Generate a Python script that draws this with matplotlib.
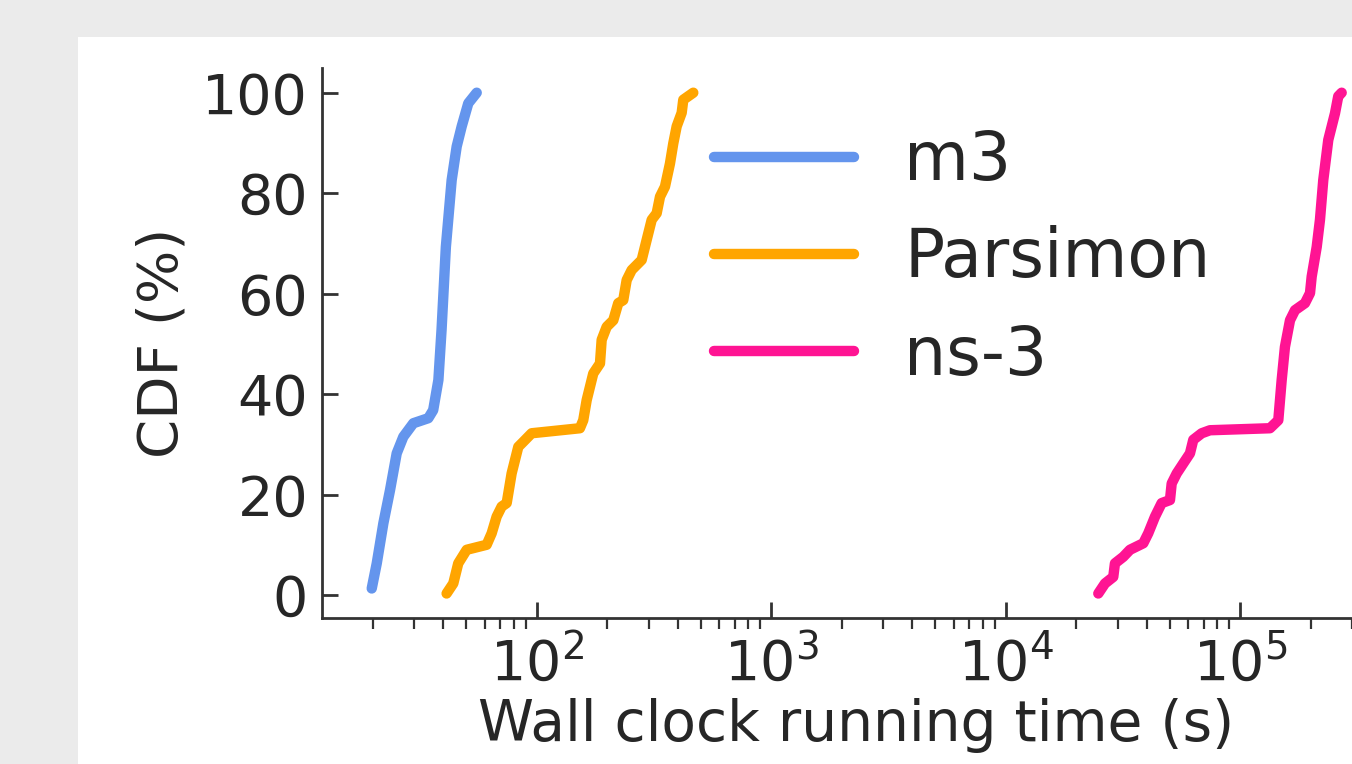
import matplotlib
matplotlib.use("Agg")
import matplotlib.pyplot as plt
from matplotlib.patches import Rectangle

# CDF of wall clock running time (s) per simulator
m3_time = [19.8, 20.8, 22.2, 23.7, 25.3, 27.0, 29.8, 34.5, 36.2, 38.1,
           39.3, 41.0, 43.4, 45.6, 47.9, 51.1, 55.5]
m3_cdf = [1.3, 6.3, 14.3, 20.9, 28.2, 31.5, 34.2, 35.2, 36.8, 42.8,
          52.8, 69.3, 82.6, 89.3, 93.3, 97.9, 100.0]

parsimon_time = [41.3, 44.1, 46.3, 50.3, 61.2, 64.3, 67.5, 70.9, 74.5, 78.2,
                 83.5, 87.7, 95.2, 152.9, 158.0, 163.4, 174.3, 186.2, 189.3,
                 198.9, 212.2, 222.8, 234.0, 242.0, 254.2, 280.4, 294.5,
                 309.4, 324.9, 335.7, 352.5, 370.2, 382.4, 395.4, 415.3,
                 421.9, 443.1, 465.4]
parsimon_cdf = [0.3, 2.3, 6.3, 9.0, 10.0, 12.3, 15.6, 17.6, 18.3, 24.2,
                29.5, 30.5, 32.2, 33.2, 34.8, 38.8, 44.1, 46.1, 50.8,
                53.4, 54.7, 58.1, 58.7, 62.7, 64.7, 66.7, 70.7,
                74.7, 76.0, 79.3, 81.3, 85.9, 89.9, 93.3, 96.0,
                98.6, 99.3, 100.0]

ns3_time = [24830, 26520, 28760, 29240, 31730, 33890, 38620, 40560, 43320,
            46260, 50190, 51040, 53620, 57210, 61080, 63100, 68540, 74330,
            133990, 145400, 150300, 155200, 163100, 171300, 188900, 198500,
            201800, 212000, 218900, 226100, 237500, 253700, 262000, 270900]
ns3_cdf = [0.3, 2.3, 3.6, 6.3, 7.6, 9.0, 10.3, 12.3, 15.6,
           18.3, 18.9, 22.2, 24.2, 26.2, 28.2, 30.9, 32.2, 32.8,
           33.2, 34.8, 42.8, 49.4, 54.7, 56.7, 58.1, 60.1,
           63.4, 69.3, 74.7, 82.6, 90.6, 95.9, 99.3, 100.0]

labels = ["m3", "Parsimon", "ns-3"]
colors = ["#6495ED", "#FFA500", "#FF1493"]

TXT = "#262626"
SPINE = "#333333"

fig = plt.figure(figsize=(13.52, 7.64), dpi=100, facecolor="#ebebeb")
# white panel the chart sits on
fig.patches.append(Rectangle((78 / 1352, 0), 1, 1 - 37 / 764,
                             transform=fig.transFigure, facecolor="white",
                             edgecolor="none", zorder=-10))

# the axes runs past the right edge of the picture (chart is cropped there)
ax = fig.add_axes([322 / 1352, (764 - 618.3) / 764,
                   (1390 - 322) / 1352, (618.3 - 68.3) / 764])
ax.set_facecolor("none")

for xs, ys, lab, col in zip([m3_time, parsimon_time, ns3_time],
                            [m3_cdf, parsimon_cdf, ns3_cdf], labels, colors):
    ax.plot(xs, ys, color=col, lw=7.5, label=lab,
            solid_capstyle="round", solid_joinstyle="round")

ax.set_xscale("log")
ax.set_xlim(12.15, 435400)
ax.set_ylim(-4.64, 104.86)
ax.set_yticks([0, 20, 40, 60, 80, 100])

for s in ["top", "right"]:
    ax.spines[s].set_visible(False)
for s in ["left", "bottom"]:
    ax.spines[s].set_color(SPINE)
    ax.spines[s].set_linewidth(2)

ax.tick_params(which="major", direction="in", length=11.5, width=2,
               color=SPINE, labelcolor=TXT, labelsize=40, pad=10)
ax.tick_params(axis="x", which="major", pad=13)
ax.tick_params(which="minor", direction="out", length=8, width=1.6,
               color=SPINE)

ax.set_xlabel("Wall clock running time (s)", fontsize=40.8, color=TXT,
              labelpad=4)
ax.set_ylabel("CDF (%)", fontsize=40.5, color=TXT, labelpad=9)

leg = ax.legend(loc="upper left", bbox_to_anchor=(0.3425, 0.94),
                frameon=False, fontsize=48, handlelength=2.1,
                handletextpad=0.75, labelspacing=0.47, borderaxespad=0)
for t in leg.get_texts():
    t.set_color(TXT)

fig.savefig("out.png", dpi=100, facecolor=fig.get_facecolor())
